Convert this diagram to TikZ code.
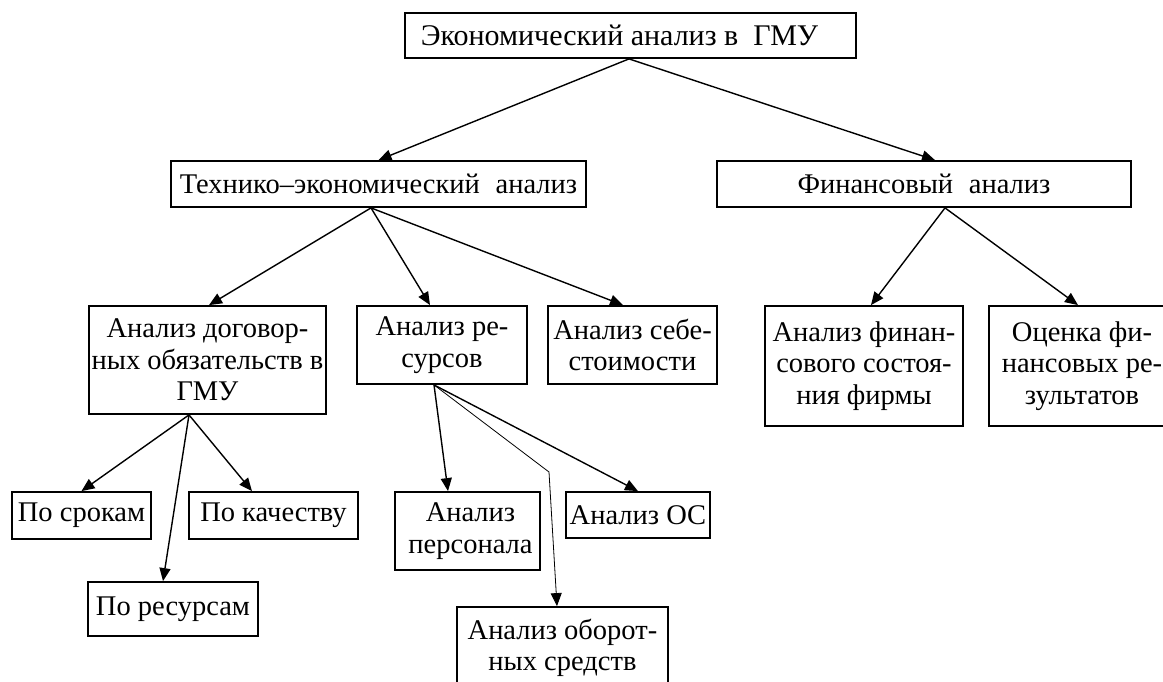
\documentclass[tikz,border=0pt]{standalone}
\usepackage{fontspec}
\setmainfont{Liberation Serif}
\usetikzlibrary{arrows.meta}
\begin{document}
\begin{tikzpicture}[x=1pt,y=-1pt,
  box/.style={draw, line width=1.8pt, inner sep=0pt, align=center, font=\fontsize{28.5}{31.5}\selectfont},
  arr/.style={line width=1.4pt, -{Triangle[length=13pt,width=11pt]}},
  thinarr/.style={line width=0.8pt, -{Triangle[length=13pt,width=11pt]}},
]
\useasboundingbox (0,0) rectangle (1163,682);
\node[box, font=\fontsize{30}{33}\selectfont, minimum width=451pt, minimum height=45pt] (top) at (630.5,35.5) {Экономический анализ в\hspace{0.5em}ГМУ\hspace{22pt}};
\node[box, minimum width=415pt, minimum height=46pt] (tech) at (378.5,184) {Технико–экономический\hspace{0.3em} анализ};
\node[box, minimum width=414pt, minimum height=46pt] (fin) at (924,184) {Финансовый\hspace{0.3em} анализ};
\node[box, minimum width=237pt, minimum height=108pt] (dog) at (207.5,360) {Анализ договор-\\ных обязательств в\\ГМУ};
\node[box, minimum width=170pt, minimum height=78pt] (res) at (442,345) {Анализ ре-\\сурсов};
\node[box, minimum width=169pt, minimum height=78pt] (seb) at (632.5,345) {Анализ себе-\\стоимости};
\node[box, minimum width=198pt, minimum height=120pt] (fsost) at (864,366) {Анализ финан-\\сового состоя-\\ния фирмы};
\node[box, minimum width=186pt, minimum height=120pt] (ocen) at (1082,366) {Оценка фи-\\нансовых ре-\\зультатов\hspace{6pt}};
\node[box, minimum width=139pt, minimum height=47pt] (srok) at (81.5,515.5) {По срокам};
\node[box, minimum width=169pt, minimum height=47pt] (kach) at (273.5,515.5) {По качеству};
\node[box, minimum width=170pt, minimum height=54pt] (pres) at (173,609) {По ресурсам};
\node[box, minimum width=145pt, minimum height=78pt] (pers) at (467.5,531) {\hspace{6pt}Анализ\\\hspace{6pt}персонала};
\node[box, minimum width=144pt, minimum height=46pt] (os) at (638,515) {Анализ ОС};
\node[box, minimum width=211pt, minimum height=82pt] (obor) at (562.5,648) {Анализ оборот-\\ных средств};
\coordinate (bend) at (549,472);

\draw[arr] ([xshift=-1.5pt]top.south) -- (tech.north);
\draw[arr] ([xshift=-1.5pt]top.south) -- ([xshift=11pt]fin.north);
\draw[arr] ([xshift=-7.5pt]tech.south) -- ([xshift=1.5pt]dog.north);
\draw[arr] ([xshift=-7.5pt]tech.south) -- ([xshift=-12pt]res.north);
\draw[arr] ([xshift=-7.5pt]tech.south) -- ([xshift=-9.5pt]seb.north);
\draw[arr] ([xshift=21pt]fin.south) -- ([xshift=7pt]fsost.north);
\draw[arr] ([xshift=21pt]fin.south) -- ([xshift=-4pt]ocen.north);
\draw[arr] ([xshift=-18.5pt]dog.south) -- (srok.north);
\draw[arr] ([xshift=-18.5pt]dog.south) -- ([xshift=-21.5pt]kach.north);
\draw[arr] ([xshift=-18.5pt]dog.south) -- ([xshift=-10pt]pres.north);
\draw[arr] ([xshift=-8pt]res.south) -- ([xshift=-19.5pt]pers.north);
\draw[arr] ([xshift=-8pt]res.south) -- (os.north);
\draw[thinarr] ([xshift=-8pt]res.south) -- (bend) -- ([xshift=-5.5pt]obor.north);
\end{tikzpicture}
\end{document}
